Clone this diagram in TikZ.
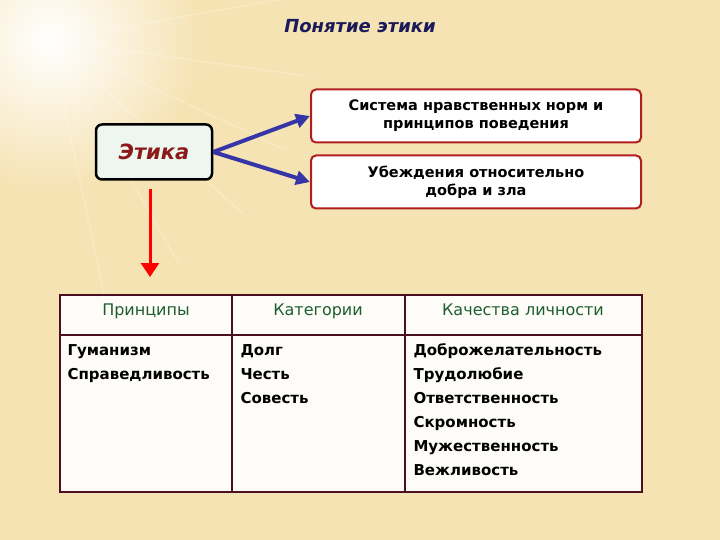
\documentclass[tikz,border=0pt]{standalone}
\usepackage{fontspec}
\setmainfont{DejaVu Sans}
\usetikzlibrary{arrows.meta}
\definecolor{bg}{HTML}{F6E3B4}
\definecolor{navy}{HTML}{1A1A5A}
\definecolor{darkred}{HTML}{8B1A1A}
\definecolor{boxred}{HTML}{B01E1E}
\definecolor{mint}{HTML}{EEF7EF}
\definecolor{arrblue}{HTML}{3535A8}
\definecolor{hgreen}{HTML}{1E5E2E}
\definecolor{tline}{HTML}{4A1020}
\tikzset{
 defbox/.style={draw=boxred,line width=2pt,rounded corners=5pt,fill=white,minimum width=330pt,minimum height=53pt,align=center,font=\bfseries\fontsize{14.5}{18}\selectfont},
 bluearr/.style={draw=arrblue,line width=4pt,-{Triangle[length=14pt,width=14pt]}},
 hdr/.style={anchor=base,font=\fontsize{16}{18}\selectfont,text=hgreen},
 item/.style={anchor=base west,font=\bfseries\fontsize{15}{18}\selectfont},
}
\begin{document}
\begin{tikzpicture}[x=1pt,y=-1pt]
\useasboundingbox (0,0) rectangle (720,540);
\fill[bg] (0,0) rectangle (720,540);
\shade[inner color=white,outer color=bg] (50,40) circle (150);
\foreach \a in {-10,8,25,42,60,78}{\draw[white,opacity=0.3,line width=1pt] (50,40) -- ++({cos(\a)*260},{sin(\a)*260});}
\node[font=\bfseries\itshape\fontsize{18}{20}\selectfont,text=navy] (title) at (360,26) {Понятие этики};
\node[draw=black,line width=2.5pt,rounded corners=6pt,fill=mint,minimum width=116pt,minimum height=55pt,font=\bfseries\itshape\fontsize{21}{24}\selectfont,text=darkred] (eth) at (154,152) {Этика};
\node[defbox] (b1) at (476,116) {Система нравственных норм и\\принципов поведения};
\node[defbox] (b2) at (476,182) {Убеждения относительно\\добра и зла};
\draw[bluearr] (eth.east) -- (b1.west);
\draw[bluearr] (eth.east) -- (b2.west);
\coordinate (tbl) at (150,277);
\draw[red,line width=3pt,-{Triangle[length=14pt,width=18pt]}] (eth.south -| tbl) ++(0,8) -- (tbl);
\fill[white,opacity=0.92] (60,295) rectangle (642,492);
\draw[tline,line width=1.8pt] (60,295) rectangle (642,492);
\draw[tline,line width=1.5pt] (232,295) -- (232,492) (405,295) -- (405,492) (60,335) -- (642,335);
\node[hdr] (h1) at (146,315) {Принципы};
\node[hdr] (h2) at (318,315) {Категории};
\node[hdr] (h3) at (523,315) {Качества личности};
\node[item] (i1) at (64,355) {Гуманизм};
\node[item] (i2) at (64,379) {Справедливость};
\node[item] (j1) at (237,355) {Долг};
\node[item] (j2) at (237,379) {Честь};
\node[item] (j3) at (237,403) {Совесть};
\node[item] (k1) at (410,355) {Доброжелательность};
\node[item] (k2) at (410,379) {Трудолюбие};
\node[item] (k3) at (410,403) {Ответственность};
\node[item] (k4) at (410,427) {Скромность};
\node[item] (k5) at (410,451) {Мужественность};
\node[item] (k6) at (410,475) {Вежливость};
\end{tikzpicture}
\end{document}
